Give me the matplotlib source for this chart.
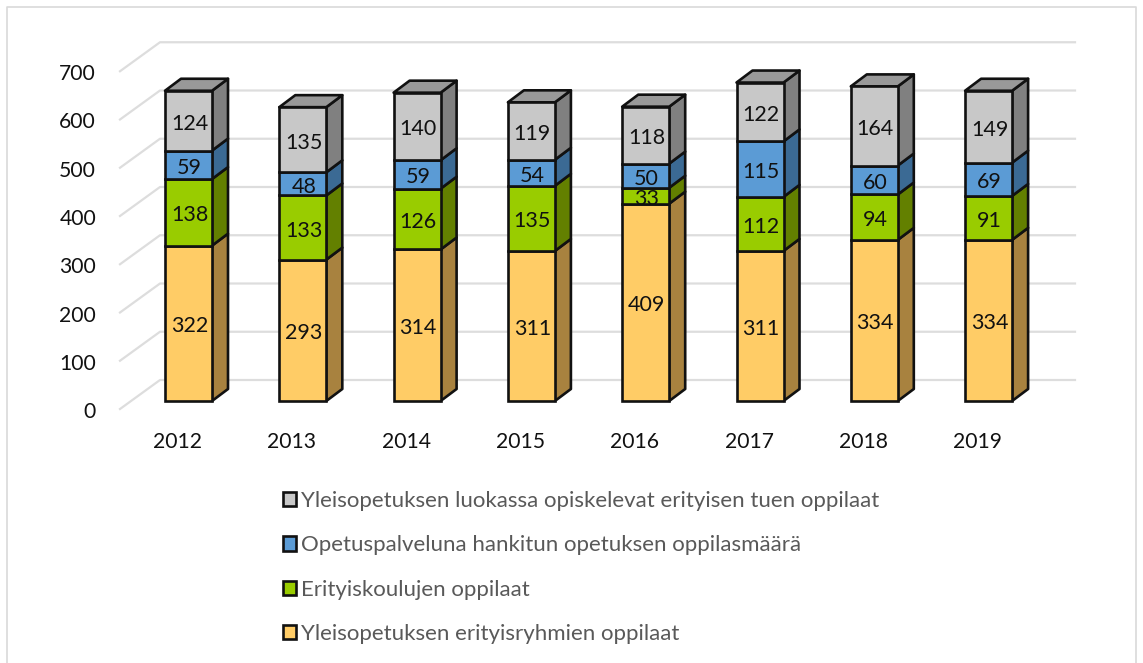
import matplotlib
matplotlib.use('Agg')
import matplotlib.pyplot as plt
from matplotlib.patches import Patch, Polygon

plt.rcParams['font.family'] = ['Lato', 'DejaVu Sans']

years = ['2012', '2013', '2014', '2015', '2016', '2017', '2018', '2019']
ryhmat = [322, 293, 314, 311, 409, 311, 334, 334]
erityiskoulut = [138, 133, 126, 135, 33, 112, 94, 91]
palvelu = [59, 48, 59, 54, 50, 115, 60, 69]
yleisopetus = [124, 135, 140, 119, 118, 122, 164, 149]
yticks = [0, 100, 200, 300, 400, 500, 600, 700]

series = [ryhmat, erityiskoulut, palvelu, yleisopetus]
names = ['Yleisopetuksen erityisryhmien oppilaat', 'Erityiskoulujen oppilaat',
         'Opetuspalveluna hankitun opetuksen oppilasmäärä',
         'Yleisopetuksen luokassa opiskelevat erityisen tuen oppilaat']
front = ['#ffcc66', '#99cc00', '#5b9bd5', '#c8c8c8']
side = ['#a8823f', '#638000', '#3b6a94', '#808080']
top_col = '#999999'
edge = '#111111'

W, H = 1143, 663
step = 114.3      # px per category
scale = 0.4825    # px per unit
x0_px = 188.5
y0_px = 401
px = 1 / step
py = 1 / scale

fig = plt.figure(figsize=(W / 100, H / 100), dpi=100)
ax = fig.add_axes([0, 0, 1, 1])
ax.set_xlim(-x0_px * px, (W - x0_px) * px)
ax.set_ylim(-(H - y0_px) * py, y0_px * py)
ax.axis('off')

# outer frame
ax.plot([(7 - x0_px) * px, (7 - x0_px) * px, (1136 - x0_px) * px, (1136 - x0_px) * px],
        [-(H - y0_px) * py, (y0_px - 7) * py, (y0_px - 7) * py, -(H - y0_px) * py],
        color='#d9d9d9', lw=1.2, zorder=0)

# back wall gridlines
for v in yticks:
    y_front = v - 8 * py
    y_back = v + 21 * py
    ax.plot([(120 - x0_px) * px, (160 - x0_px) * px, (1075 - x0_px) * px],
            [y_front, y_back, y_back], color='#dddddd', lw=1.6, zorder=1)
    ax.text((96 - x0_px) * px, y_front - 3 * py, str(v), ha='right', va='center',
            fontsize=15.2, color='#111111')

bar_w = 47 * px
dx = 16 * px
dy = 12 * py
for i, year in enumerate(years):
    left = i - bar_w / 2
    right = i + bar_w / 2
    bottom = 0
    for s, vals in enumerate(series):
        v = vals[i]
        ax.add_patch(Polygon([(right, bottom), (right + dx, bottom + dy),
                              (right + dx, bottom + v + dy), (right, bottom + v)],
                             fc=side[s], ec=edge, lw=1.9, joinstyle='round', zorder=3))
        ax.bar(i, v, bar_w, bottom=bottom, color=front[s], edgecolor=edge, lw=1.9, zorder=4)
        ax.text(i + 1 * px, bottom + v / 2 - 3 * py, str(v), ha='center', va='center',
                fontsize=15.5, color='#111111', zorder=5)
        bottom += v
    ax.add_patch(Polygon([(left, bottom), (right, bottom), (right + dx, bottom + dy),
                          (left + dx, bottom + dy)],
                         fc=top_col, ec=edge, lw=1.9, joinstyle='round', zorder=3))
    ax.text(i - 11 * px, -41 * py, year, ha='center', va='center',
            fontsize=15.2, color='#111111')

handles = [Patch(fc=front[s], ec=edge, lw=1.9) for s in range(3, -1, -1)]
ax.legend(handles, names[::-1], loc='upper left',
          bbox_to_anchor=(272 / W, 1 - 480 / H), frameon=False,
          fontsize=16, labelcolor='#595959', handlelength=0.6, handleheight=0.6,
          handletextpad=0.22, labelspacing=1.09, borderpad=0.5, borderaxespad=0)

fig.savefig('out.png', dpi=100)
